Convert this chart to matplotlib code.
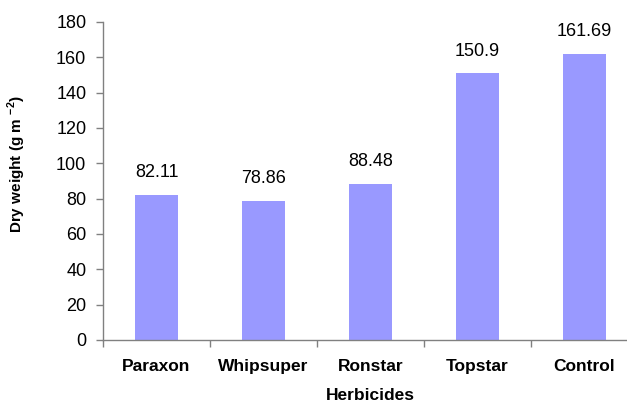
import matplotlib.pyplot as plt
import numpy as np

herbicides = ['Paraxon', 'Whipsuper', 'Ronstar', 'Topstar', 'Control']
dry_weight = [82.11, 78.86, 88.48, 150.9, 161.69]
value_labels = ['82.11', '78.86', '88.48', '150.9', '161.69']
yticks = [0, 20, 40, 60, 80, 100, 120, 140, 160, 180]

plt.rcParams['font.family'] = ['Liberation Sans', 'DejaVu Sans']
plt.rcParams['mathtext.fontset'] = 'custom'
plt.rcParams['mathtext.bf'] = 'Liberation Sans:bold'
plt.rcParams['mathtext.rm'] = 'Liberation Sans'

fig = plt.figure(figsize=(6.27, 4.04), dpi=100)
ax = fig.add_axes([103 / 627, 64 / 404, 535 / 627, 318 / 404])

x = np.arange(len(herbicides))
bars = ax.bar(x, dry_weight, width=0.41, color='#9999FF')

for b, lab in zip(bars, value_labels):
    ax.annotate(lab, (b.get_x() + b.get_width() / 2, b.get_height()),
                xytext=(0, 10), textcoords='offset points',
                ha='center', va='bottom', fontsize=13)

ax.set_xlim(-0.5, len(herbicides) - 0.5)
ax.set_ylim(0, 180)
ax.set_yticks(yticks)
ax.tick_params(axis='y', labelsize=13, length=5, width=1, color='#808080', pad=7)

ax.set_xticks(x)
ax.set_xticklabels(herbicides, fontsize=12.5, fontweight='bold')
ax.tick_params(axis='x', length=0, pad=14)
ax.set_xticks(np.arange(-0.5, len(herbicides)), minor=True)
ax.tick_params(axis='x', which='minor', length=5, width=1, color='#808080')

for s in ['top', 'right']:
    ax.spines[s].set_visible(False)
for s in ['left', 'bottom']:
    ax.spines[s].set_color('#808080')
    ax.spines[s].set_linewidth(1)

ax.set_xlabel('Herbicides', fontsize=12.5, fontweight='bold', labelpad=10)
ax.set_ylabel(r'Dry weight (g m $^{\mathbf{-2}}$)', fontsize=11, fontweight='bold')
ax.yaxis.set_label_coords(-0.14, 0.553)

fig.savefig('out.png', dpi=100)
